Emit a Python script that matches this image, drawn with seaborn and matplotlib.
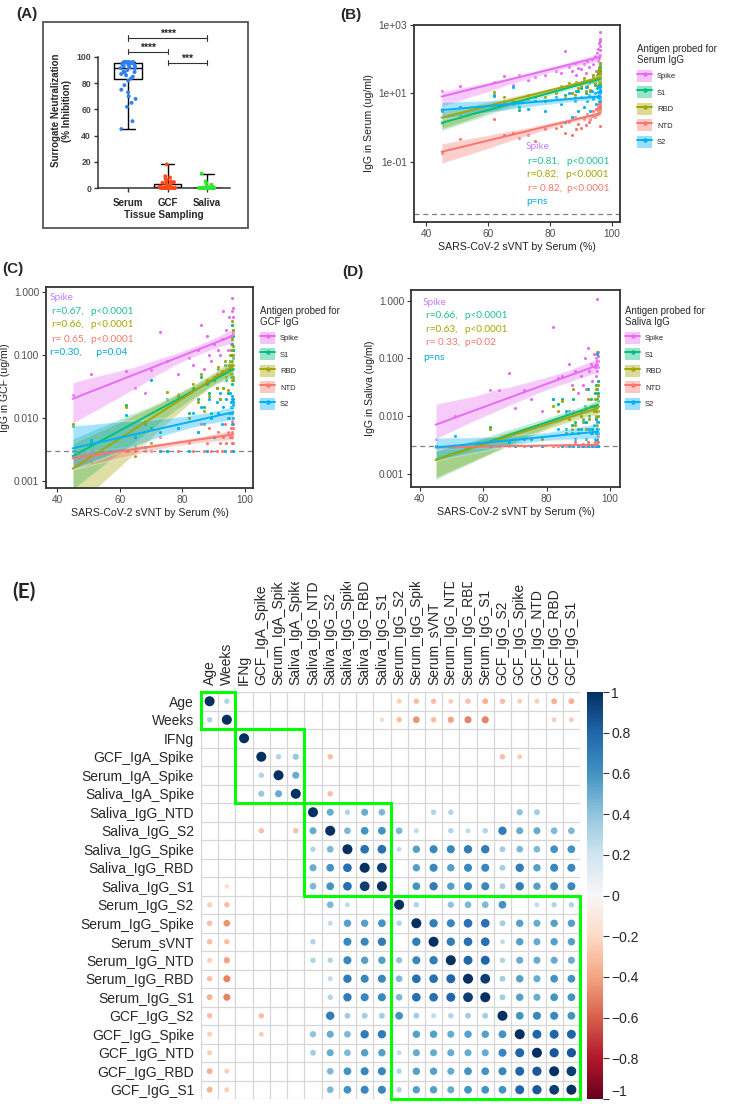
import numpy as np
import pandas as pd
import seaborn as sns
import matplotlib.pyplot as plt
from matplotlib.patches import Rectangle, Patch
from matplotlib.lines import Line2D
from matplotlib.collections import PolyCollection
from matplotlib.transforms import Bbox, TransformedBbox
from matplotlib.cm import ScalarMappable
from matplotlib.colors import Normalize
from matplotlib.ticker import FuncFormatter

# ---------------- data ----------------
# serum sVNT (% inhibition) per subject, also the Serum group of panel A
svnt = [45.0, 51.0, 62.0, 65.0, 68.0, 70.0, 73.0, 75.0, 78.5, 82.0,
        83.5, 85.0, 86.0, 87.0, 88.0, 88.5, 89.0, 90.0, 91.0, 91.5,
        92.0, 92.5, 93.0, 93.5, 94.0, 94.5, 95.0, 95.3, 95.5, 95.6,
        95.7, 95.8, 95.9, 96.0, 96.0, 96.1, 96.1, 96.2, 96.2, 96.3]
gcf_inhib = [18, 9, 8, 7, 6, 5, 5, 4.5, 4, 3.8, 3, 2.5, 2, 2, 1.5, 1.2, 1, 0.8, 0.5, 0.5,
             0.3, 0.2, 0, 0, 0, 0, 0, 0, 0, 0, 0, 0, 0, 0, 0, 0, 0, 0, 0, 0]
saliva_inhib = [11, 5, 3.5, 2.5, 1.5, 1, 0.8, 0.5, 0.5, 0.3, 0.2, 0.1, 0, 0, 0, 0, 0, 0, 0, 0,
                0, 0, 0, 0, 0, 0, 0, 0, 0, 0, 0, 0, 0, 0, 0, 0, 0, 0, 0, 0]
tissues = ['Serum', 'GCF', 'Saliva']
tissue_colors = ['#2F80F0', '#FF4A1C', '#2EE82E']

antigens = ['Spike', 'S1', 'RBD', 'NTD', 'S2']
antigen_colors = ['#E76BF3', '#00BF7D', '#A3A500', '#F8766D', '#00B0F6']

# IgG (ug/ml) per subject, same subject order as svnt
serum_spike = [12, 16, 22, 33, 18, 35, 25, 30, 35, 45, 40, 170, 60, 45, 80, 35, 55, 50, 70, 40,
               90, 60, 25, 100, 70, 120, 45, 150, 90, 200, 60, 300, 110, 620, 400, 250, 80, 180, 130, 350]
serum_s1 = [1.4, 2.0, 9, 6, 5, 3.2, 7, 8, 6, 12, 15, 9, 18, 10, 8, 20, 12, 14, 25, 10,
            15, 20, 12, 22, 30, 18, 25, 30, 15, 40, 22, 50, 28, 60, 35, 18, 45, 25, 70, 30]
serum_rbd = [3.5, 2.2, 11, 8, 6, 4, 9, 6, 8, 10, 16, 8, 20, 10, 9, 22, 14, 16, 28, 12,
             17, 24, 13, 25, 35, 20, 28, 35, 18, 45, 25, 55, 30, 70, 40, 20, 50, 30, 80, 35]
serum_ntd = [0.18, 0.45, 1.8, 0.6, 0.7, 0.5, 0.6, 0.4, 0.9, 1.0, 1.1, 0.7, 1.5, 0.6, 2.0, 0.9, 1.3, 1.0, 1.8, 1.2,
             2.5, 1.5, 1.8, 2.2, 3.0, 2.0, 3.5, 2.5, 4.0, 3.0, 2.8, 5.0, 3.5, 6.0, 4.0, 3.0, 1.1, 4.5, 3.8, 5.5]
serum_s2 = [3.0, 4.0, 8.5, 5.0, 15, 4.0, 3.5, 6, 3.0, 8, 5, 1.5, 10, 2.0, 6, 12, 3.0, 8, 4, 15,
            6, 9, 3, 12, 7, 10, 5, 14, 8, 11, 6, 16, 9, 13, 7, 12, 10, 8, 15, 11]

gcf_spike = [0.023, 0.05, 0.055, 0.03, 0.025, 0.058, 0.23, 0.08, 0.05, 0.09, 0.07, 0.12, 0.3, 0.06, 0.2, 0.1, 0.08, 0.15, 0.05, 0.12,
             0.1, 0.18, 0.5, 0.07, 0.25, 0.12, 0.4, 0.08, 0.15, 0.2, 0.5, 0.1, 0.3, 0.8, 0.18, 0.4, 0.22, 0.55, 0.12, 0.25]
gcf_s1 = [0.0075, 0.004, 0.016, 0.0036, 0.009, 0.007, 0.006, 0.02, 0.024, 0.012, 0.03, 0.02, 0.045, 0.015, 0.035, 0.025, 0.012, 0.04, 0.03, 0.06,
          0.02, 0.05, 0.03, 0.07, 0.04, 0.025, 0.06, 0.08, 0.045, 0.1, 0.035, 0.15, 0.05, 0.3, 0.07, 0.2, 0.04, 0.12, 0.06, 0.09]
gcf_rbd = [0.008, 0.002, 0.015, 0.0025, 0.008, 0.004, 0.003, 0.026, 0.022, 0.01, 0.035, 0.018, 0.05, 0.013, 0.04, 0.022, 0.01, 0.045, 0.03, 0.065,
           0.02, 0.055, 0.03, 0.08, 0.045, 0.028, 0.07, 0.1, 0.05, 0.12, 0.04, 0.18, 0.06, 0.35, 0.08, 0.25, 0.045, 0.14, 0.07, 0.1]
gcf_ntd = [0.003, 0.003, 0.003, 0.003, 0.003, 0.003, 0.005, 0.003, 0.003, 0.004, 0.003, 0.006, 0.008, 0.003, 0.004, 0.007, 0.003, 0.005, 0.003, 0.006,
           0.004, 0.003, 0.005, 0.008, 0.004, 0.006, 0.01, 0.005, 0.003, 0.007, 0.012, 0.004, 0.009, 0.006, 0.005, 0.01, 0.004, 0.007, 0.003, 0.008]
gcf_s2 = [0.003, 0.0045, 0.011, 0.005, 0.0035, 0.04, 0.003, 0.003, 0.007, 0.003, 0.012, 0.006, 0.015, 0.008, 0.003, 0.02, 0.01, 0.005, 0.018, 0.012,
          0.025, 0.008, 0.015, 0.003, 0.02, 0.01, 0.012, 0.025, 0.015, 0.018, 0.008, 0.02, 0.012, 0.015, 0.022, 0.003, 0.018, 0.01, 0.016, 0.02]

saliva_spike = [0.004, 0.01, 0.028, 0.028, 0.055, 0.014, 0.028, 0.02, 0.012, 0.35, 0.045, 0.05, 0.011, 0.08, 0.035, 0.012, 0.06, 0.025, 0.05, 0.035,
                0.1, 0.03, 0.15, 0.06, 0.08, 0.04, 0.12, 0.07, 0.05, 0.1, 0.08, 0.025, 0.09, 1.05, 0.06, 0.11, 0.04, 0.13, 0.07, 0.09]
saliva_s1 = [0.003, 0.003, 0.0065, 0.003, 0.003, 0.003, 0.003, 0.004, 0.003, 0.02, 0.016, 0.02, 0.006, 0.012, 0.007, 0.02, 0.008, 0.006, 0.012, 0.009,
             0.015, 0.008, 0.03, 0.01, 0.02, 0.006, 0.015, 0.025, 0.01, 0.035, 0.012, 0.02, 0.008, 0.03, 0.015, 0.01, 0.025, 0.018, 0.012, 0.04]
saliva_rbd = [0.003, 0.003, 0.006, 0.003, 0.003, 0.003, 0.003, 0.003, 0.004, 0.015, 0.012, 0.018, 0.005, 0.009, 0.006, 0.03, 0.007, 0.005, 0.01, 0.008,
              0.012, 0.006, 0.02, 0.009, 0.015, 0.005, 0.012, 0.02, 0.009, 0.03, 0.01, 0.015, 0.007, 0.13, 0.012, 0.008, 0.022, 0.015, 0.01, 0.035]
saliva_ntd = [0.003, 0.003, 0.003, 0.003, 0.003, 0.003, 0.003, 0.003, 0.003, 0.003, 0.003, 0.003, 0.003, 0.0032, 0.003, 0.003, 0.0035, 0.003, 0.003, 0.0033,
              0.003, 0.003, 0.0035, 0.003, 0.0032, 0.003, 0.003, 0.0036, 0.003, 0.003, 0.0034, 0.003, 0.003, 0.0038, 0.003, 0.003, 0.0035, 0.003, 0.0045, 0.003]
saliva_s2 = [0.003, 0.0045, 0.003, 0.003, 0.0035, 0.003, 0.004, 0.003, 0.003, 0.02, 0.006, 0.003, 0.012, 0.003, 0.005, 0.003, 0.004, 0.003, 0.006, 0.003,
             0.008, 0.004, 0.003, 0.006, 0.005, 0.003, 0.007, 0.004, 0.003, 0.009, 0.005, 0.003, 0.006, 0.004, 0.12, 0.003, 0.008, 0.005, 0.003, 0.006]

detection_limit = 0.003

serum_notes = [('Spike', '#C77CFF'), ('r=0.81,   p<0.0001', '#1DBE8E'), ('r=0.82,   p<0.0001', '#A3A500'),
               ('r= 0.82,  p<0.0001', '#F8766D'), ('p=ns', '#00A9E0')]
gcf_notes = [('Spike', '#C77CFF'), ('r=0.67,   p<0.0001', '#1DBE8E'), ('r=0.66,   p<0.0001', '#A3A500'),
             ('r= 0.65,  p<0.0001', '#F8766D'), ('r=0.30,      p=0.04', '#00A9E0')]
saliva_notes = [('Spike', '#C77CFF'), ('r=0.66,   p<0.0001', '#1DBE8E'), ('r=0.63,   p<0.0001', '#A3A500'),
                ('r= 0.33,  p=0.02', '#F8766D'), ('p=ns', '#00A9E0')]

# correlation matrix (panel E), lower triangle, 0 = not significant
corr_vars = ['Age', 'Weeks', 'IFNg', 'GCF_IgA_Spike', 'Serum_IgA_Spike', 'Saliva_IgA_Spike',
             'Saliva_IgG_NTD', 'Saliva_IgG_S2', 'Saliva_IgG_Spike', 'Saliva_IgG_RBD', 'Saliva_IgG_S1',
             'Serum_IgG_S2', 'Serum_IgG_Spike', 'Serum_sVNT', 'Serum_IgG_NTD', 'Serum_IgG_RBD', 'Serum_IgG_S1',
             'GCF_IgG_S2', 'GCF_IgG_Spike', 'GCF_IgG_NTD', 'GCF_IgG_RBD', 'GCF_IgG_S1']
corr_lower = [
    [1],
    [0.3, 1],
    [0, 0, 1],
    [0, 0, 0, 1],
    [0, 0, 0, 0.3, 1],
    [0, 0, 0, 0.38, 0.5, 1],
    [0, 0, 0, 0, 0, 0, 1],
    [0, 0, 0, -0.3, 0, -0.3, 0.5, 1],
    [0, 0, 0, 0, 0, 0, 0.3, 0.45, 1],
    [0, 0, 0, 0, 0, 0, 0.5, 0.6, 0.75, 1],
    [0, -0.2, 0, 0, 0, 0, 0.45, 0.6, 0.75, 0.95, 1],
    [-0.25, -0.3, 0, 0, 0, 0, 0, 0.45, 0.25, 0, 0, 1],
    [-0.3, -0.45, 0, 0, 0, 0, 0, 0.25, 0.55, 0.55, 0.6, 0.3, 1],
    [-0.3, -0.3, 0, 0, 0, 0, 0.3, 0, 0.65, 0.65, 0.7, 0, 0.7, 1],
    [-0.25, -0.4, 0, 0, 0, 0, 0.3, 0.3, 0.65, 0.55, 0.55, 0.4, 0.65, 0.7, 1],
    [-0.3, -0.5, 0, 0, 0, 0, 0, 0.25, 0.7, 0.65, 0.65, 0.45, 0.75, 0.75, 0.8, 1],
    [-0.35, -0.5, 0, 0, 0, 0, 0, 0.3, 0.7, 0.65, 0.65, 0.45, 0.75, 0.75, 0.8, 0.95, 1],
    [-0.3, 0, 0, -0.3, 0, 0, 0, 0.7, 0.35, 0.35, 0.35, 0.6, 0.35, 0.25, 0.3, 0.35, 0.35, 1],
    [-0.25, 0, 0, -0.25, 0, 0, 0.4, 0.5, 0.45, 0.7, 0.7, 0, 0.55, 0.55, 0.5, 0.55, 0.55, 0.6, 1],
    [-0.25, 0, 0, 0, 0, 0, 0.35, 0.5, 0.45, 0.55, 0.55, 0.25, 0.5, 0.5, 0.5, 0.5, 0.5, 0.65, 0.8, 1],
    [-0.35, -0.25, 0, 0, 0, 0, 0, 0.45, 0.6, 0.65, 0.65, 0.3, 0.55, 0.55, 0.5, 0.6, 0.6, 0.65, 0.8, 0.85, 1],
    [-0.35, -0.25, 0, 0, 0, 0, 0, 0.45, 0.6, 0.65, 0.65, 0.3, 0.55, 0.55, 0.5, 0.6, 0.6, 0.6, 0.8, 0.85, 0.95, 1],
]
block_starts = [0, 2, 6, 11]
block_sizes = [2, 4, 5, 11]

# ---------------- figure ----------------
sns.set_style('ticks')
plt.rcParams['font.family'] = ['Liberation Sans', 'DejaVu Sans']

W, H = 750, 1104
fig = plt.figure(figsize=(W / 100, H / 100), dpi=100)


def px_rect(x0, y0, x1, y1):
    # pixel box (from top-left) -> figure fraction rect
    return [x0 / W, 1 - y1 / H, (x1 - x0) / W, (y1 - y0) / H]


def panel_letter(x, y, s, size=11, family=None):
    fig.text(x / W, 1 - y / H, s, fontsize=size, fontweight='bold', va='center', ha='left',
             family=family if family else plt.rcParams['font.family'])


# ---- (A) surrogate neutralization ----
fig.add_artist(Rectangle((43 / W, 1 - 228 / H), 205 / W, 206 / H, transform=fig.transFigure,
                         fill=False, edgecolor='#555555', lw=1.3))
axA = fig.add_axes(px_rect(98, 33, 230, 188))
df_a = pd.DataFrame({'tissue': np.repeat(tissues, [len(svnt), len(gcf_inhib), len(saliva_inhib)]),
                     'inhib': svnt + gcf_inhib + saliva_inhib})
sns.boxplot(data=df_a, x='tissue', y='inhib', order=tissues, whis=(0, 100), width=0.7,
            fill=False, color='black', linewidth=1.0, ax=axA)
np.random.seed(7)
sns.stripplot(data=df_a, x='tissue', y='inhib', order=tissues, hue='tissue', hue_order=tissues,
              palette=tissue_colors, size=2.8, jitter=0.2, linewidth=0, legend=False,
              ax=axA, zorder=3, clip_on=False)
axA.set_xlim(-0.76, 2.58)
axA.set_ylim(0, 118.3)
axA.set_yticks(range(0, 101, 20))
axA.spines['left'].set_bounds(0, 100)
for s in ['top', 'right']:
    axA.spines[s].set_visible(False)
for s in ['left', 'bottom']:
    axA.spines[s].set_linewidth(1.1)
    axA.spines[s].set_color('#333333')
axA.tick_params(length=3, width=1, color='#333333', labelsize=6.2, pad=2)
axA.tick_params(axis='x', pad=4)
for t in axA.get_yticklabels():
    t.set_fontweight('bold')
    t.set_color('#444444')
for t in axA.get_xticklabels():
    t.set_fontweight('bold')
    t.set_fontsize(7)
axA.set_xlabel('Tissue Sampling', fontsize=7.2, fontweight='bold', labelpad=2)
axA.set_ylabel('Surrogate Neutralization\n(% Inhibition)', fontsize=7, fontweight='bold', labelpad=3)
# significance brackets
for (a, b, yb, stars) in [(0, 2, 114.5, '****'), (0, 1, 104, '****'), (1, 2, 95.6, '***')]:
    axA.plot([a, b], [yb, yb], color='#333333', lw=0.8, clip_on=False)
    for xe in (a, b):
        axA.plot([xe, xe], [yb - 2, yb + 2], color='#333333', lw=0.8, clip_on=False)
    axA.text((a + b) / 2, yb + 0.8, stars, ha='center', va='baseline', fontsize=7.5,
             fontweight='bold', clip_on=False)
panel_letter(16, 14, '(A)')


# ---- (B)-(D) IgG vs sVNT ----
def igg_panel(rect, values, ylim, xlim, yticks, yticklabels, ylabel, fluid, leg_xy, notes, note_xy):
    ax = fig.add_axes(px_rect(*rect))
    x = np.array(svnt)
    for vals, col in zip(values, antigen_colors):
        sns.regplot(x=x, y=np.log10(vals), ax=ax, color=col, ci=95, seed=1, n_boot=400,
                    scatter_kws={'s': 5, 'linewidths': 0, 'alpha': 1},
                    line_kws={'lw': 1.4})
    for coll in ax.collections:
        if isinstance(coll, PolyCollection):
            coll.set_alpha(0.35)
    ax.axhline(np.log10(detection_limit), color='#808080', ls=(0, (4, 3)), lw=0.9, zorder=0)
    ax.set_xlim(*xlim)
    ax.set_ylim(*ylim)
    ax.set_xticks([40, 60, 80, 100])
    ax.set_yticks(yticks)
    ax.set_yticklabels(yticklabels)
    for s in ax.spines.values():
        s.set_linewidth(1.3)
        s.set_color('#333333')
    ax.tick_params(length=3, width=0.8, color='#333333', labelcolor='#4D4D4D', labelsize=7.3, pad=2)
    ax.set_xlabel('SARS-CoV-2 sVNT by Serum (%)', fontsize=7.6, color='#222222', labelpad=2)
    ax.set_ylabel(ylabel, fontsize=7.6, color='#222222', labelpad=3)
    for (txt, col), (nx, ny) in zip(notes, note_xy):
        ax.text(nx, ny, txt, color=col, transform=ax.transAxes, fontsize=7.2, va='center',
                ha='left', family=['Lato', 'DejaVu Sans'])
    handles = [(Patch(facecolor=c, alpha=0.4, edgecolor='none'),
                Line2D([], [], color=c, lw=1.4, marker='o', ms=2.2)) for c in antigen_colors]
    ax.legend(handles, antigens, title='Antigen probed for\n' + fluid + ' IgG', loc='upper left',
              bbox_to_anchor=(leg_xy[0] / W, 1 - leg_xy[1] / H), bbox_transform=fig.transFigure,
              frameon=False, fontsize=5.5, title_fontsize=7, handlelength=2.0, handleheight=2.1,
              labelspacing=0.55, handletextpad=0.65, borderpad=0.9, borderaxespad=0, alignment='left')
    return ax


igg_panel((414, 25, 620, 222), [serum_spike, serum_s1, serum_rbd, serum_ntd, serum_s2],
          (-2.76, 3.0), (36.1, 102.6), [-1, 1, 3], ['1e-01', '1e+01', '1e+03'],
          'IgG in Serum (ug/ml)', 'Serum', (630, 37), serum_notes,
          [(0.544, 0.381), (0.553, 0.305), (0.548, 0.239), (0.553, 0.168), (0.544, 0.102)])
panel_letter(340, 15, '(B)')

igg_panel((46, 287, 253, 488), [gcf_spike, gcf_s1, gcf_rbd, gcf_ntd, gcf_s2],
          (-3.11, 0.079), (36.5, 102.55), [-3, -2, -1, 0], ['0.001', '0.010', '0.100', '1.000'],
          'IgG in GCF (ug/ml)', 'GCF', (253, 299), gcf_notes,
          [(0.019, 0.95), (0.03, 0.876), (0.03, 0.811), (0.03, 0.741), (0.019, 0.672)])
panel_letter(2, 269, '(C)')

igg_panel((411, 290, 620, 487), [saliva_spike, saliva_s1, saliva_rbd, saliva_ntd, saliva_s2],
          (-3.23, 0.185), (37.2, 103.2), [-3, -2, -1, 0], ['0.001', '0.010', '0.100', '1.000'],
          'IgG in Saliva (ug/ml)', 'Saliva', (618, 299), saliva_notes,
          [(0.057, 0.939), (0.072, 0.873), (0.072, 0.802), (0.072, 0.731), (0.057, 0.655)])
panel_letter(342, 272, '(D)')

# ---- (E) correlation matrix ----
n = len(corr_vars)
mat = np.zeros((n, n))
for i, row in enumerate(corr_lower):
    for j, v in enumerate(row):
        mat[i, j] = v
        mat[j, i] = v
rr, cc = np.nonzero(mat)
df_e = pd.DataFrame({'row': rr, 'col': cc, 'r': mat[rr, cc]})
df_e['absr'] = df_e['r'].abs()

axE = fig.add_axes(px_rect(201, 692, 580, 1099))
sns.scatterplot(data=df_e, x='col', y='row', hue='r', size='absr', palette='RdBu',
                hue_norm=(-1, 1), sizes=(0, 52), size_norm=(0, 1), linewidth=0,
                legend=False, ax=axE, zorder=3)
axE.set_xlim(-0.5, n - 0.5)
axE.set_ylim(n - 0.5, -0.5)
axE.set_xticks(range(n))
axE.set_yticks(range(n))
axE.set_xticks(np.arange(-0.5, n, 1), minor=True)
axE.set_yticks(np.arange(-0.5, n, 1), minor=True)
axE.grid(False, which='major')
axE.grid(True, which='minor', color='#D6D6D6', lw=0.9)
axE.set_axisbelow(True)
for s in axE.spines.values():
    s.set_visible(False)
axE.xaxis.tick_top()
axE.set_xticklabels(corr_vars, rotation=90, fontsize=10)
axE.set_yticklabels(corr_vars, fontsize=10)
axE.tick_params(which='both', length=0, pad=5)
axE.set_xlabel('')
axE.set_ylabel('')
clip = TransformedBbox(Bbox([[0, 0], [1, 1 - 582 / H]]), fig.transFigure)
for t in axE.get_xticklabels():
    t.set_clip_on(True)
    t.set_clip_box(clip)
for st, sz in zip(block_starts, block_sizes):
    axE.add_patch(Rectangle((st - 0.5, st - 0.5), sz, sz, fill=False, edgecolor='#00FF00',
                            lw=2.2, zorder=4, clip_on=False))

cax = fig.add_axes(px_rect(587, 692, 603, 1099))
cb = fig.colorbar(ScalarMappable(norm=Normalize(-1, 1), cmap='RdBu'), cax=cax,
                  ticks=np.round(np.arange(-1, 1.01, 0.2), 1))
cb.outline.set_visible(False)
cax.yaxis.set_major_formatter(FuncFormatter(
    lambda v, p: '0' if abs(v) < 1e-9 else ('%g' % round(v, 1)).replace('-', '\u2212')))
cax.tick_params(length=4, width=0.8, labelsize=10, pad=2, color='#333333')
# keep the bottom label inside the picture
cax.get_yticklabels()[0].set_va('bottom')
panel_letter(12, 592, '(E)', size=15, family=['Lato', 'DejaVu Sans'])

fig.savefig('out.png', dpi=100)
